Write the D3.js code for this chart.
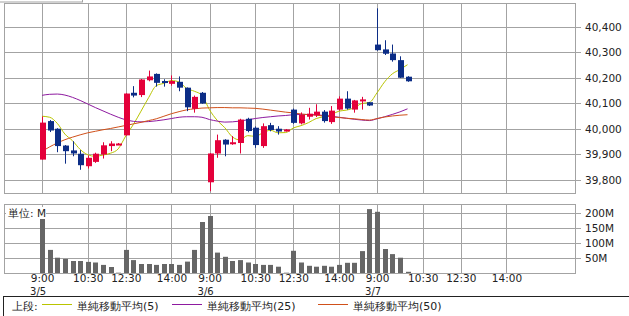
<!DOCTYPE html>
<html>
<head>
<meta charset="utf-8">
<script src="https://cdn.jsdelivr.net/npm/d3@7"></script>
<style>
  body { margin: 0; background: #fff; }
  svg { display: block; }
  text { font-family: "DejaVu Sans", sans-serif; }
</style>
</head>
<body>
<script>
// 15-minute candles, 3/5 9:00 .. 3/7 10:00 (slot index = position on the time axis)
var opens  = [39880, 40031, 40001, 39935, 39916, 39903, 39854, 39871, 39900, 39933, 39941,
              39975, 40142, 40133, 40191, 40216, 40188, 40177, 40185, 40162, 40079, 40142,
              39791, 39904, 39958, 39941, 39945, 40040, 40005, 39933, 40015, 40001, 39991,
              40076, 40022, 40048, 40054, 40068, 40027, 40076, 40119, 40076, 40112, 40105,
              40331, 40312, 40296, 40270, 40205]
var highs  = [40049, 40035, 40003, 39937, 39952, 39917, 39896, 39907, 39948, 39952, 39945,
              40140, 40168, 40196, 40229, 40218, 40195, 40210, 40206, 40163, 40131, 40145,
              39905, 39978, 39960, 39972, 40040, 40044, 40010, 40022, 40024, 40011, 40000,
              40080, 40065, 40083, 40097, 40074, 40090, 40128, 40148, 40114, 40126, 40106,
              40473, 40348, 40331, 40285, 40207]
var lows   = [39880, 39988, 39909, 39864, 39893, 39840, 39845, 39867, 39884, 39913, 39940,
              39974, 40124, 40125, 40187, 40166, 40166, 40170, 40148, 40070, 40064, 40099,
              39756, 39887, 39893, 39938, 39904, 39987, 39926, 39926, 39991, 39978, 39990,
              40020, 40018, 40037, 40047, 40025, 40020, 40072, 40076, 40064, 40076, 40090,
              40307, 40290, 40264, 40200, 40185]
var closes = [40025, 39994, 39933, 39913, 39904, 39858, 39887, 39903, 39936, 39943, 39943,
              40139, 40131, 40194, 40206, 40181, 40181, 40188, 40162, 40085, 40126, 40100,
              39904, 39956, 39939, 39948, 40037, 39992, 39937, 40011, 39996, 39990, 39998,
              40024, 40055, 40060, 40068, 40031, 40072, 40119, 40080, 40112, 40116, 40092,
              40309, 40295, 40270, 40201, 40187]
// volume in millions
var volumes = [181, 78, 52, 48, 41, 41, 38, 36, 28, 21, 2,
               78, 44, 31, 31, 28, 31, 31, 28, 39, 78, 171,
               191, 69, 55, 41, 44, 36, 31, 28, 28, 22, 2,
               75, 36, 25, 22, 25, 22, 28, 35, 35, 74, 214,
               205, 81, 64, 52, 5]
// moving averages as drawn
var ma5  = [40050, 40046, 40022, 39980, 39954, 39920, 39899, 39893, 39898, 39905, 39922,
            39973, 40018, 40070, 40123, 40170, 40179, 40190, 40184, 40159, 40148, 40132,
            40075, 40034, 40005, 39969, 39957, 39974, 39971, 39985, 39995, 39985, 39986,
            40004, 40013, 40025, 40041, 40048, 40057, 40070, 40074, 40083, 40100, 40104,
            40142, 40185, 40216, 40233, 40252]
var ma25 = [40132, 40136, 40137, 40133, 40124, 40112, 40098, 40084, 40071, 40058, 40046,
            40036, 40030, 40028, 40029, 40032, 40036, 40041, 40046, 40048, 40048, 40046,
            40037, 40031, 40027, 40028, 40031, 40036, 40041, 40045, 40048, 40051, 40053,
            40056, 40057, 40057, 40056, 40053, 40050, 40046, 40042, 40038, 40035, 40033,
            40040, 40048, 40057, 40067, 40079]
var ma50 = [39912, 39930, 39945, 39958, 39968, 39977, 39985, 39991, 39997, 40002, 40008,
            40014, 40020, 40026, 40033, 40040, 40050, 40060, 40068, 40075, 40079, 40082,
            40083, 40084, 40084, 40083, 40083, 40082, 40081, 40078, 40074, 40070, 40066,
            40063, 40059, 40056, 40054, 40051, 40048, 40045, 40042, 40040, 40037, 40035,
            40041, 40047, 40051, 40054, 40056]

var tickSlots  = [0, 6, 11, 17, 22, 28, 33, 39, 44, 50, 55, 61]
var tickLabels = ["9:00", "10:30", "12:30", "14:00", "9:00", "10:30", "12:30", "14:00",
                  "9:00", "10:30", "12:30", "14:00"]
var dateSlots  = [0, 22, 44]
var dateLabels = ["3/5", "3/6", "3/7"]
var priceTicks = [39800, 39900, 40000, 40100, 40200, 40300, 40400]
var volTicks   = [50, 100, 150, 200]
var legendNames = ["単純移動平均(5)", "単純移動平均(25)", "単純移動平均(50)"]

var grid = "#a3a3a3"
var upColor = "#e4003a", downColor = "#0c2d86"
var maColors = ["#b9c400", "#8e1aa0", "#d0501a"]

var svg = d3.select("body").append("svg")
  .attr("width", 629)
  .attr("height", 316)

var left = 4, right = 575
var x = d3.scaleLinear().domain([-5, 70]).range([left, right])
var y = d3.scaleLinear().domain([39749, 40494]).range([193, 3])
var yv = d3.scaleLinear().domain([0, 231]).range([273.3, 204])

// cropped box at top-left
svg.append("rect")
  .attr("x", -1).attr("y", -10).attr("width", 83.5).attr("height", 12)
  .attr("fill", "none").attr("stroke", grid)

// ---- price panel ----
var main = svg.append("g")
main.selectAll(".hg").data(priceTicks).enter().append("line")
  .attr("x1", left).attr("x2", right + 6)
  .attr("y1", d => Math.round(y(d)) + 0.5).attr("y2", d => Math.round(y(d)) + 0.5)
  .attr("stroke", grid)
main.selectAll(".vg").data(tickSlots).enter().append("line")
  .attr("x1", d => Math.round(x(d)) + 0.5).attr("x2", d => Math.round(x(d)) + 0.5)
  .attr("y1", 3).attr("y2", 193)
  .attr("stroke", grid)
main.append("rect")
  .attr("x", left + 0.5).attr("y", 3.5).attr("width", right - left).attr("height", 190)
  .attr("fill", "none").attr("stroke", grid)

main.selectAll(".pl").data(priceTicks).enter().append("text")
  .attr("x", 585).attr("y", d => y(d) + 4)
  .attr("font-size", 10.5).attr("fill", "#222")
  .text(d => d3.format(",")(d))

// moving average lines
;[ma5, ma25, ma50].forEach(function (ma, k) {
  var line = d3.line()
    .x((d, i) => x(i))
    .y(d => y(d))
    .curve(d3.curveMonotoneX)
  main.append("path")
    .attr("d", line(ma))
    .attr("fill", "none")
    .attr("stroke", maColors[k])
    .attr("stroke-width", 1)
})

// candles
var idx = d3.range(closes.length)
var candles = main.selectAll(".c").data(idx).enter().append("g")
candles.append("line")
  .attr("x1", i => Math.round(x(i)) + 0.5).attr("x2", i => Math.round(x(i)) + 0.5)
  .attr("y1", i => y(highs[i])).attr("y2", i => y(lows[i]))
  .attr("stroke", i => closes[i] >= opens[i] ? upColor : downColor)
candles.append("rect")
  .attr("x", i => Math.round(x(i)) - 2)
  .attr("width", 6)
  .attr("y", i => y(Math.max(opens[i], closes[i])))
  .attr("height", i => Math.max(2, Math.abs(y(opens[i]) - y(closes[i]))))
  .attr("fill", i => closes[i] >= opens[i] ? upColor : downColor)

// ---- volume panel ----
var vol = svg.append("g")
vol.selectAll(".hg").data(volTicks).enter().append("line")
  .attr("x1", left).attr("x2", right + 6)
  .attr("y1", d => Math.round(yv(d)) + 0.5).attr("y2", d => Math.round(yv(d)) + 0.5)
  .attr("stroke", grid)
vol.selectAll(".vg").data(tickSlots).enter().append("line")
  .attr("x1", d => Math.round(x(d)) + 0.5).attr("x2", d => Math.round(x(d)) + 0.5)
  .attr("y1", 204).attr("y2", 273)
  .attr("stroke", grid)

vol.selectAll(".b").data(idx).enter().append("rect")
  .attr("x", i => Math.round(x(i)) - 2)
  .attr("width", 5)
  .attr("y", i => yv(volumes[i]))
  .attr("height", i => yv(0) - yv(volumes[i]))
  .attr("fill", "#666")

vol.append("rect")
  .attr("x", left + 0.5).attr("y", 204.5).attr("width", right - left).attr("height", 69)
  .attr("fill", "none").attr("stroke", grid)

vol.append("rect")
  .attr("x", 6).attr("y", 207).attr("width", 40).attr("height", 12).attr("fill", "#fff")
vol.append("text")
  .attr("x", 8).attr("y", 217).attr("font-size", 10.5).attr("fill", "#222")
  .text("単位: M")

vol.selectAll(".vl").data(volTicks).enter().append("text")
  .attr("x", 585).attr("y", d => yv(d) + 4)
  .attr("font-size", 10.5).attr("fill", "#222")
  .text(d => d + "M")

// time axis
var xAxis = d3.axisBottom(x)
  .tickValues(tickSlots)
  .tickFormat((d, i) => tickLabels[i])
  .tickSize(0)
  .tickPadding(2)
var ax = svg.append("g").attr("transform", "translate(0,273)").call(xAxis)
ax.select(".domain").remove()
ax.selectAll("text").attr("font-size", 10.5).attr("fill", "#222")
  .attr("font-family", "DejaVu Sans, sans-serif")

svg.selectAll(".dl").data(dateSlots).enter().append("text")
  .attr("x", (d, i) => x(d) - 12)
  .attr("y", 295)
  .attr("font-size", 10).attr("fill", "#222")
  .text((d, i) => dateLabels[i])

// ---- legend ----
var leg = svg.append("g")
leg.append("rect")
  .attr("x", 3.5).attr("y", 296.5).attr("width", 700).attr("height", 40)
  .attr("fill", "none").attr("stroke", "#222")
leg.append("text").attr("x", 12).attr("y", 309.5).attr("font-size", 11).attr("fill", "#222")
  .text("上段:")
var legX = [42, 172, 318]
legendNames.forEach(function (name, k) {
  leg.append("rect")
    .attr("x", legX[k]).attr("width", 30)
    .attr("y", 304).attr("height", 1)
    .attr("fill", maColors[k])
  leg.append("text")
    .attr("x", legX[k] + 35).attr("y", 309.5)
    .attr("font-size", 11).attr("fill", "#222")
    .text(name)
})
</script>
</body>
</html>
